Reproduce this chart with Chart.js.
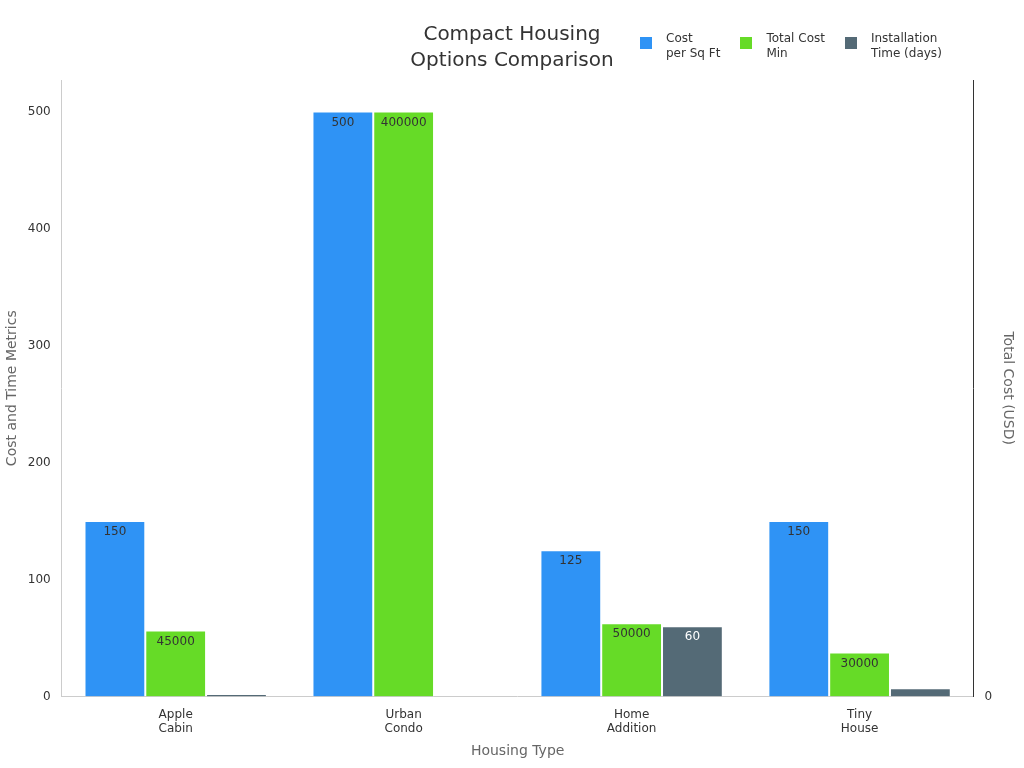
<!DOCTYPE html>
<html>
<head>
<meta charset="utf-8">
<script src="https://cdn.jsdelivr.net/npm/chart.js@4"></script>
<style>
  body { margin: 0; font-family: "DejaVu Sans", sans-serif; background: #fff; }
  #wrap { position: relative; width: 1024px; height: 768px; }
  #title { position: absolute; left: 392px; top: 20px; width: 240px; text-align: center; font-size: 20px; color: #333; line-height: 26px; }
  #legend { position: absolute; left: 640px; top: 31px; display: flex; font-size: 12px; color: #333; line-height: 15px; }
  .item { display: flex; align-items: flex-start; margin-right: 20px; }
  .sw { width: 12px; height: 12px; margin: 6px 14px 0 0; }
</style>
</head>
<body>
<div id="wrap">
  <div id="title">Compact Housing<br>Options Comparison</div>
  <div id="legend">
    <div class="item"><div class="sw" style="background:#2F93F5"></div><div>Cost<br>per Sq Ft</div></div>
    <div class="item"><div class="sw" style="background:#66DB27"></div><div>Total Cost<br>Min</div></div>
    <div class="item"><div class="sw" style="background:#546A76"></div><div>Installation<br>Time (days)</div></div>
  </div>
  <canvas id="myChart" width="1024" height="768"></canvas>
</div>
<script>
const categories = [["Apple", "Cabin"], ["Urban", "Condo"], ["Home", "Addition"], ["Tiny", "House"]];
const costPerSqFt = [150, 500, 125, 150];
const totalCostMin = [45000, 400000, 50000, 30000];
const installDays = [2, null, 60, 7];

// value labels inside the top of each bar
const barLabels = {
  id: "barLabels",
  afterDatasetsDraw(chart) {
    const ctx = chart.ctx;
    ctx.save();
    ctx.font = "12px 'DejaVu Sans'";
    ctx.textAlign = "center";
    ctx.textBaseline = "top";
    chart.data.datasets.forEach((ds, i) => {
      chart.getDatasetMeta(i).data.forEach((bar, j) => {
        const v = ds.data[j];
        if (v == null || bar.base - bar.y < 20) return;
        ctx.fillStyle = i == 2 ? "#fff" : "#333";
        ctx.fillText(String(v), bar.x, bar.y + 5);
      });
    });
    ctx.restore();
  }
};

var ctx = document.getElementById("myChart").getContext("2d");
var myChart = new Chart(ctx, {
  type: "bar",
  data: {
    labels: categories,
    datasets: [
      { label: "Cost per Sq Ft", data: costPerSqFt, backgroundColor: "#2F93F5", borderColor: "#fff", borderWidth: 1, yAxisID: "y" },
      { label: "Total Cost Min", data: totalCostMin, backgroundColor: "#66DB27", borderColor: "#fff", borderWidth: 1, yAxisID: "y1" },
      { label: "Installation Time (days)", data: installDays, backgroundColor: "#546A76", borderColor: "#fff", borderWidth: 1, yAxisID: "y" },
    ],
  },
  options: {
    responsive: false,
    animation: false,
    layout: { padding: { top: 80, left: 0, right: 4, bottom: 4 } },
    categoryPercentage: 0.8,
    barPercentage: 1,
    plugins: { legend: { display: false }, title: { display: false }, tooltip: { enabled: false } },
    scales: {
      x: {
        grid: { display: false },
        border: { color: "#ccc" },
        ticks: { color: "#333", font: { size: 12, family: "DejaVu Sans" } },
        title: { display: true, text: "Housing Type", color: "#666", font: { size: 14, family: "DejaVu Sans" } }
      },
      y: {
        min: 0, max: 527,
        grid: { display: false },
        border: { color: "#ccc" },
        ticks: { stepSize: 100, color: "#333", font: { size: 12, family: "DejaVu Sans" }, callback: v => v % 100 == 0 ? v : null },
        title: { display: true, text: "Cost and Time Metrics", color: "#666", font: { size: 14, family: "DejaVu Sans" } }
      },
      y1: {
        position: "right",
        min: 0, max: 421600,
        grid: { display: false },
        border: { color: "#333" },
        ticks: { stepSize: 50000, color: "#333", font: { size: 12, family: "DejaVu Sans" }, callback: v => v % 50000 == 0 ? (v == 0 ? "0" : v / 1000 + "k") : null },
        title: { display: true, text: "Total Cost (USD)", color: "#666", font: { size: 14, family: "DejaVu Sans" } }
      }
    }
  },
  plugins: [barLabels]
});
</script>
</body>
</html>
